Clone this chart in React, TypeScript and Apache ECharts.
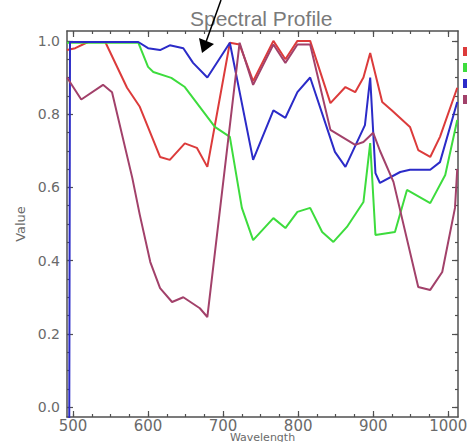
import React, { useEffect, useRef } from "react";
import * as echarts from "echarts";

// ---- data ----
const redWl = [492, 503, 520, 543, 572, 589, 616, 629, 649, 665, 679, 709, 722, 740, 767, 783, 799, 816, 843, 863, 876, 887, 896, 912, 925, 949, 960, 976, 989, 1012];
const redVal = [0.975, 0.98, 0.997, 0.997, 0.872, 0.82, 0.683, 0.675, 0.72, 0.708, 0.656, 0.995, 0.99, 0.89, 1.0, 0.95, 1.0, 1.0, 0.83, 0.874, 0.86, 0.9, 0.967, 0.833, 0.81, 0.765, 0.702, 0.683, 0.738, 0.872];

const greenWl = [492, 587, 600, 607, 631, 649, 689, 709, 725, 740, 767, 783, 799, 816, 832, 847, 865, 887, 896, 903, 929, 945, 976, 996, 1012];
const greenVal = [0.995, 0.995, 0.929, 0.915, 0.899, 0.874, 0.765, 0.738, 0.544, 0.456, 0.516, 0.489, 0.533, 0.544, 0.478, 0.451, 0.492, 0.56, 0.721, 0.47, 0.478, 0.593, 0.557, 0.634, 0.784];

const blueWl = [495, 496, 587, 600, 616, 629, 647, 660, 679, 709, 740, 767, 783, 799, 816, 849, 863, 889, 896, 903, 909, 936, 949, 976, 989, 1012];
const blueVal = [-0.03, 0.997, 0.997, 0.98, 0.975, 0.988, 0.98, 0.94, 0.9, 0.995, 0.675, 0.81, 0.79, 0.86, 0.9, 0.697, 0.656, 0.77, 0.9, 0.639, 0.612, 0.642, 0.648, 0.648, 0.669, 0.833];

const maroonWl = [492, 511, 540, 552, 579, 589, 603, 616, 632, 647, 669, 679, 722, 740, 767, 783, 799, 816, 843, 876, 887, 900, 909, 927, 960, 976, 992, 1009, 1012];
const maroonVal = [0.9, 0.84, 0.88, 0.86, 0.626, 0.525, 0.396, 0.325, 0.287, 0.3, 0.27, 0.246, 0.995, 0.88, 0.99, 0.94, 0.99, 0.99, 0.757, 0.716, 0.724, 0.749, 0.7, 0.615, 0.328, 0.32, 0.369, 0.544, 0.65];

const seriesNames = ["Profile 1", "Profile 2", "Profile 3", "Profile 4"];
const xMajorTicks = [500, 600, 700, 800, 900, 1000];
const xMinorTicks = [500, 525, 550, 575, 600, 625, 650, 675, 700, 725, 750, 775, 800, 825, 850, 875, 900, 925, 950, 975, 1000];
const yMajorTicks = [0, 0.2, 0.4, 0.6, 0.8, 1.0];
const yMinorTicks = [0, 0.05, 0.1, 0.15, 0.2, 0.25, 0.3, 0.35, 0.4, 0.45, 0.5, 0.55, 0.6, 0.65, 0.7, 0.75, 0.8, 0.85, 0.9, 0.95, 1.0];

const X_MIN = 492;
const X_MAX = 1013;
const Y_MIN = -0.027;
const Y_MAX = 1.027;

const colors = ["#dc3b3b", "#3ddc3d", "#2b2bc8", "#a2416a"];
const FONT = "DejaVu Sans";
const AXIS_COLOR = "#505050";
const TEXT_COLOR = "#6a6a6a";

function pairs(xs: number[], ys: number[]) {
  return xs.map((x, i) => [x, ys[i]]);
}

function xAxisDef(position: "top" | "bottom", major: boolean, extra: any = {}) {
  return {
    type: "value",
    min: X_MIN,
    max: X_MAX,
    position,
    axisLine: { show: major, onZero: false, lineStyle: { color: AXIS_COLOR, width: 1.5 } },
    axisTick: {
      show: true,
      inside: true,
      length: major ? 6 : 3,
      customValues: major ? xMajorTicks : xMinorTicks,
      lineStyle: { color: AXIS_COLOR, width: 1.2 },
    },
    axisLabel: { show: false },
    splitLine: { show: false },
    ...extra,
  };
}

function yAxisDef(position: "left" | "right", major: boolean, extra: any = {}) {
  return {
    type: "value",
    min: Y_MIN,
    max: Y_MAX,
    position,
    axisLine: { show: major, onZero: false, lineStyle: { color: AXIS_COLOR, width: 1.5 } },
    axisTick: {
      show: true,
      inside: true,
      length: major ? 6 : 3,
      customValues: major ? yMajorTicks : yMinorTicks,
      lineStyle: { color: AXIS_COLOR, width: 1.2 },
    },
    axisLabel: { show: false },
    splitLine: { show: false },
    ...extra,
  };
}

export default function App() {
  const ref = useRef<HTMLDivElement>(null);

  useEffect(() => {
    if (!ref.current) return;
    const chart = echarts.init(ref.current, null, { renderer: "svg" });

    const data = [
      pairs(redWl, redVal),
      pairs(greenWl, greenVal),
      pairs(blueWl, blueVal),
      pairs(maroonWl, maroonVal),
    ];

    const option: any = {
      animation: false,
      backgroundColor: "#ffffff",
      title: {
        text: "Spectral Profile",
        left: 185,
        top: 3,
        textStyle: { fontFamily: "Liberation Sans", fontSize: 21, fontWeight: "normal", color: "#7a7a7a" },
      },
      legend: {
        orient: "vertical",
        left: 463,
        top: 47,
        icon: "rect",
        itemWidth: 14,
        itemHeight: 9,
        itemGap: 7,
        padding: 0,
        formatter: () => "",
        textStyle: { fontSize: 11, fontFamily: FONT },
        data: seriesNames.map((n, i) => ({ name: n, textStyle: { color: colors[i] } })),
      },
      grid: { left: 67, right: 9, top: 31, bottom: 25, containLabel: false, outerBoundsMode: "none" },
      xAxis: [
        xAxisDef("bottom", true, {
          axisLabel: {
            show: true,
            customValues: xMajorTicks,
            formatter: (v: number) => String(Math.round(v)),
            fontFamily: FONT,
            fontSize: 15,
            lineHeight: 12,
            color: TEXT_COLOR,
            margin: 3,
          },
          name: "Wavelength",
          nameLocation: "middle",
          nameGap: 15,
          nameMoveOverlap: false,
          nameTextStyle: { fontFamily: FONT, fontSize: 11, color: TEXT_COLOR, lineHeight: 10 },
        }),
        xAxisDef("bottom", false),
        xAxisDef("top", true),
        xAxisDef("top", false),
      ],
      yAxis: [
        yAxisDef("left", true, {
          axisLabel: {
            show: true,
            customValues: yMajorTicks,
            formatter: (v: number) => v.toFixed(1),
            fontFamily: FONT,
            fontSize: 14,
            color: TEXT_COLOR,
            margin: 7,
          },
          name: "Value",
          nameLocation: "middle",
          nameGap: 40,
          nameMoveOverlap: false,
          nameTextStyle: { fontFamily: FONT, fontSize: 13, color: TEXT_COLOR },
        }),
        yAxisDef("left", false),
        yAxisDef("right", true),
        yAxisDef("right", false),
      ],
      graphic: [
        {
          type: "line",
          shape: { x1: 221, y1: 0, x2: 206, y2: 42 },
          style: { stroke: "#000", lineWidth: 1.5 },
          z: 100,
        },
        {
          type: "polygon",
          shape: { points: [[202, 53], [199, 38], [214, 44]] },
          style: { fill: "#000" },
          z: 100,
        },
      ],
      series: seriesNames.map((n, i) => ({
        name: n,
        type: "line",
        data: data[i],
        xAxisIndex: 0,
        yAxisIndex: 0,
        symbol: "none",
        lineStyle: { color: colors[i], width: 2 },
        itemStyle: { color: colors[i] },
        clip: true,
      })),
    };

    chart.setOption(option);
    return () => chart.dispose();
  }, []);

  return (
    <div
      ref={ref}
      style={{ position: "fixed", left: 0, top: 0, width: 467, height: 442 }}
    />
  );
}
